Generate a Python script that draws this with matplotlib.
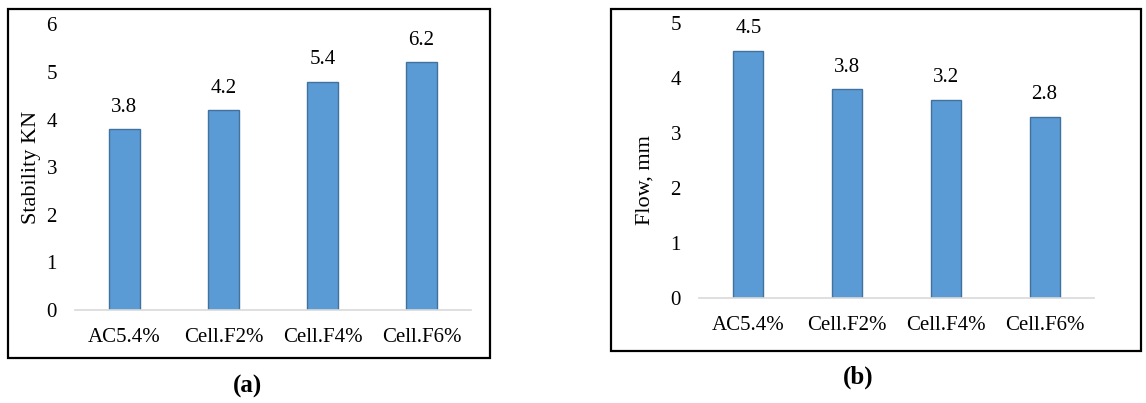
import matplotlib
matplotlib.use("Agg")
import matplotlib.pyplot as plt
from matplotlib.patches import Rectangle

plt.rcParams['font.family'] = ['Liberation Serif', 'DejaVu Serif']

categories = ["AC5.4%", "Cell.F2%", "Cell.F4%", "Cell.F6%"]
stability_values = [3.8, 4.2, 4.8, 5.2]
stability_labels = ["3.8", "4.2", "5.4", "6.2"]
flow_values = [4.5, 3.8, 3.6, 3.3]
flow_labels = ["4.5", "3.8", "3.2", "2.8"]

W, H = 1146, 403
fig = plt.figure(figsize=(W / 100, H / 100), dpi=100)

bar_color = "#5B9BD5"
edge_color = "#41719C"
FS = 15


def px_rect(x0, x1, ytop, ybot):
    return [x0 / W, 1 - ybot / H, (x1 - x0) / W, (ybot - ytop) / H]


def panel(rect, values, labels, ymax, ylabel, ylab_xy, letter, letter_xy, box):
    ax = fig.add_axes(rect)
    x = range(len(categories))
    ax.bar(x, values, width=0.305, color=bar_color, edgecolor=edge_color, linewidth=1)
    ax.set_xlim(-0.5, len(categories) - 0.5)
    ax.set_ylim(0, ymax)
    ax.set_yticks(range(0, ymax + 1))
    ax.set_xticks(list(x))
    ax.set_xticklabels(categories)
    for s in ["top", "right", "left"]:
        ax.spines[s].set_visible(False)
    ax.spines["bottom"].set_color("#D9D9D9")
    ax.spines["bottom"].set_linewidth(1.2)
    ax.tick_params(axis="both", length=0, labelsize=FS, colors="black")
    ax.tick_params(axis="y", pad=13)
    ax.tick_params(axis="x", pad=13)
    ax.set_facecolor("none")
    for xi, v, lab in zip(x, values, labels):
        ax.annotate(lab, (xi, v), xytext=(0, 22), textcoords="offset pixels",
                    ha="center", va="center", fontsize=FS, color="black")
    ax.set_ylabel(ylabel, fontsize=16, va="center", ha="center")
    ax.yaxis.set_label_coords(*ylab_xy)
    fig.text(letter_xy[0] / W, 1 - letter_xy[1] / H, letter, ha="center", va="center",
             fontsize=18, fontweight="bold")
    bx0, bx1, by0, by1 = box
    fig.add_artist(Rectangle((bx0 / W, 1 - by1 / H), (bx1 - bx0) / W, (by1 - by0) / H,
                             transform=fig.transFigure, fill=False, edgecolor="black",
                             linewidth=1.6))
    return ax


panel(px_rect(75, 471, 24.4, 310), stability_values, stability_labels, 6,
      "Stability KN", (-0.1086, 0.5), "(a)", (248, 386), (8, 490, 9, 358))
panel(px_rect(699, 1094, 23, 298), flow_values, flow_labels, 5,
      "Flow, mm", (-0.137, 0.43), "(b)", (858, 377), (611, 1141, 9, 351))

fig.savefig("out.png", dpi=100)
